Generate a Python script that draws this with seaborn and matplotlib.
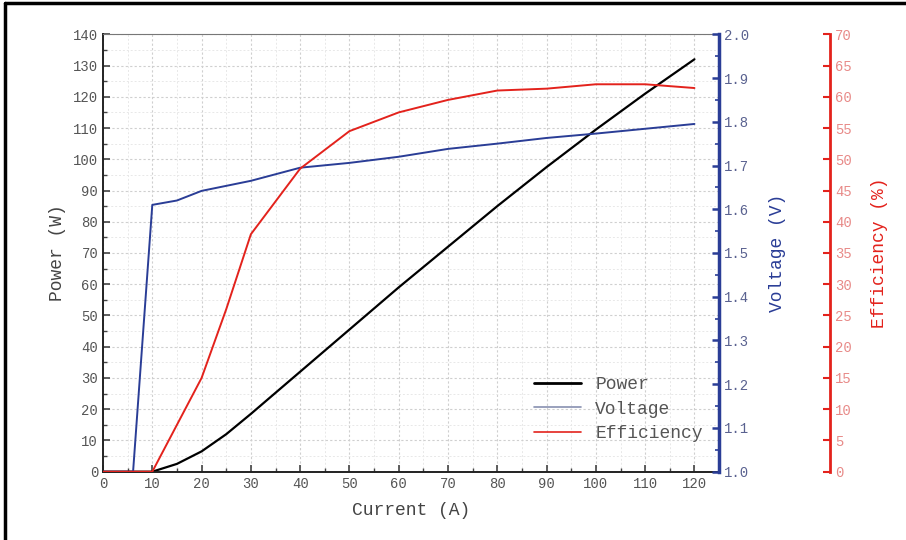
import matplotlib
matplotlib.use("Agg")
import matplotlib.pyplot as plt
import pandas as pd
import seaborn as sns
from matplotlib.lines import Line2D
from matplotlib.ticker import MultipleLocator

sns.set_style("white")
plt.rcParams["font.family"] = ["Liberation Mono", "DejaVu Sans"]

# values
current_p = [0, 10, 15, 20, 25, 30, 40, 50, 60, 70, 80, 90, 100, 110, 120]
power = [0, 0, 2.5, 6.5, 12, 18.5, 32, 45.5, 59, 72, 85, 97.5, 109.5, 121, 132]

current_v = [0, 6.1, 10, 15, 20, 30, 40, 50, 60, 70, 80, 90, 100, 110, 120]
voltage = [1.0, 1.0, 1.61, 1.62, 1.642, 1.665, 1.695, 1.706, 1.72, 1.738, 1.75, 1.763, 1.773, 1.784, 1.795]

current_e = [0, 10, 20, 25, 30, 40, 50, 60, 70, 80, 90, 100, 110, 120]
efficiency = [0, 0, 15, 26, 38, 48.5, 54.5, 57.5, 59.5, 61, 61.3, 62, 62, 61.4]

df_p = pd.DataFrame({"current": current_p, "power": power})
df_v = pd.DataFrame({"current": current_v, "voltage": voltage})
df_e = pd.DataFrame({"current": current_e, "efficiency": efficiency})

BLUE = "#2a3d96"
RED = "#e3221c"
BLUE_TXT = "#5a6290"
RED_TXT = "#e88a88"

fig = plt.figure(figsize=(9.06, 5.40), dpi=100)
ax = fig.add_axes([0.1137, 0.1265, 0.68, 0.81])
ax_v = ax.twinx()
ax_e = ax.twinx()
ax_e.spines["right"].set_position(("axes", 1.18))

sns.lineplot(data=df_p, x="current", y="power", ax=ax, color="black", lw=1.6)
sns.lineplot(data=df_v, x="current", y="voltage", ax=ax_v, color=BLUE, lw=1.4)
sns.lineplot(data=df_e, x="current", y="efficiency", ax=ax_e, color=RED, lw=1.4)

ax.set_xlim(0, 125)
ax.set_ylim(0, 140)
ax_v.set_ylim(1.0, 2.0)
ax_e.set_ylim(0, 70)

ax.xaxis.set_major_locator(MultipleLocator(10))
ax.xaxis.set_minor_locator(MultipleLocator(5))
ax.yaxis.set_major_locator(MultipleLocator(10))
ax.yaxis.set_minor_locator(MultipleLocator(5))
ax_v.yaxis.set_major_locator(MultipleLocator(0.1))
ax_v.yaxis.set_minor_locator(MultipleLocator(0.05))
ax_e.yaxis.set_major_locator(MultipleLocator(5))
ax_v.yaxis.set_major_formatter(lambda v, _: f"{v:.1f}")

ax.grid(which="major", color="#cfcfcf", ls=(0, (2, 2)), lw=0.8)
ax.grid(which="minor", color="#e8e8e8", ls=(0, (2, 2)), lw=0.7)

ax.tick_params(which="both", direction="in", left=True, bottom=True, labelsize=10, colors="#444444", labelcolor="#555555")
ax.tick_params(which="major", length=5, width=1.2)
ax.tick_params(which="minor", length=3, width=1)
ax_v.tick_params(axis="y", which="both", direction="in", colors=BLUE, labelcolor=BLUE_TXT, labelsize=10)
ax_v.tick_params(axis="y", which="major", length=5, width=1.8)
ax_v.tick_params(axis="y", which="minor", length=3, width=1.2)
ax_e.tick_params(axis="y", direction="in", colors=RED, labelcolor=RED_TXT, labelsize=10, length=5, width=1.5)

for s in ["left", "bottom"]:
    ax.spines[s].set_color("#222222")
    ax.spines[s].set_linewidth(1.4)
ax.spines["top"].set_color("#777777")
ax.spines["right"].set_visible(False)
for s in ["left", "top", "bottom"]:
    ax_v.spines[s].set_visible(False)
    ax_e.spines[s].set_visible(False)
ax_e.spines["right"].set_visible(True)
ax_v.spines["right"].set_color(BLUE)
ax_v.spines["right"].set_linewidth(2.5)
ax_e.spines["right"].set_color(RED)
ax_e.spines["right"].set_linewidth(2)

ax.set_xlabel("Current (A)", fontsize=13, color="#444444", labelpad=8)
ax.set_ylabel("Power (W)", fontsize=13, color="#444444", labelpad=5)
ax_v.set_ylabel("Voltage (V)", fontsize=13, color=BLUE, labelpad=14)
ax_e.set_ylabel("Efficiency (%)", fontsize=13, color=RED, labelpad=14)

handles = [
    Line2D([], [], color="black", lw=2),
    Line2D([], [], color="#8890b0", lw=1.2),
    Line2D([], [], color=RED, lw=1.2),
]
ax.legend(handles, ["Power", "Voltage", "Efficiency"], loc="lower right",
          bbox_to_anchor=(1.0, 0.03), frameon=False, fontsize=13,
          handlelength=2.6, labelspacing=0.42, labelcolor="#555555")

# frame lines of the cropped source figure
fig.add_artist(Line2D([0.005, 0.005], [0, 0.995], color="black", lw=2.5, transform=fig.transFigure))
fig.add_artist(Line2D([0.005, 1], [0.995, 0.995], color="black", lw=2.5, transform=fig.transFigure))

fig.savefig("out.png", dpi=100)
